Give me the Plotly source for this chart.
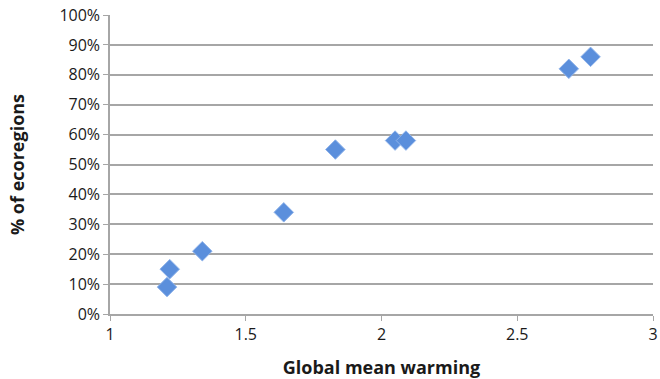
import plotly.graph_objects as go

# Data
warming = [1.21, 1.22, 1.34, 1.64, 1.83, 2.05, 2.09, 2.69, 2.77]
pct_ecoregions = [0.09, 0.15, 0.21, 0.34, 0.55, 0.58, 0.58, 0.82, 0.86]

x_ticks = [1, 1.5, 2, 2.5, 3]
x_ticklabels = ["1", "1.5", "2", "2.5", "3"]
y_ticks = [i / 10 for i in range(11)]
y_ticklabels = [f"{i * 10}%" for i in range(11)]

AXIS_GREY = "#a6a6a6"
TEXT = "#1a1a1a"

fig = go.Figure()

fig.add_trace(
    go.Scatter(
        x=warming,
        y=pct_ecoregions,
        mode="markers",
        marker=dict(
            symbol="diamond",
            size=15,
            color="#5b8fdc",
            line=dict(color="#8fb3ea", width=1),
        ),
        showlegend=False,
    )
)

fig.update_layout(
    width=660,
    height=379,
    margin=dict(l=110, r=7, t=15, b=65),
    plot_bgcolor="white",
    paper_bgcolor="white",
    font=dict(family="Open Sans, Liberation Sans, sans-serif", size=16, color=TEXT),
    xaxis=dict(
        range=[1, 3],
        tickvals=x_ticks,
        ticktext=x_ticklabels,
        showgrid=False,
        showline=True,
        linecolor=AXIS_GREY,
        linewidth=1.5,
        ticks="outside",
        ticklen=5,
        tickcolor=AXIS_GREY,
        zeroline=False,
        automargin=False,
        title=dict(
            text="<b>Global mean warming</b>",
            font=dict(size=18, color=TEXT),
            standoff=20,
        ),
    ),
    yaxis=dict(
        range=[0, 1],
        tickvals=y_ticks,
        ticktext=y_ticklabels,
        showgrid=True,
        gridcolor=AXIS_GREY,
        gridwidth=1.5,
        showline=True,
        linecolor=AXIS_GREY,
        linewidth=1.5,
        ticks="outside",
        ticklen=5,
        tickcolor=AXIS_GREY,
        zeroline=False,
        automargin=False,
        title=dict(
            text="<b>% of ecoregions</b>",
            font=dict(size=18, color=TEXT),
            standoff=30,
        ),
    ),
)

# drop the default 8px page margin so the figure fills the window
fig.write_html(
    "out.html",
    config={"displayModeBar": False},
    post_script="document.body.style.margin = '0';",
)
